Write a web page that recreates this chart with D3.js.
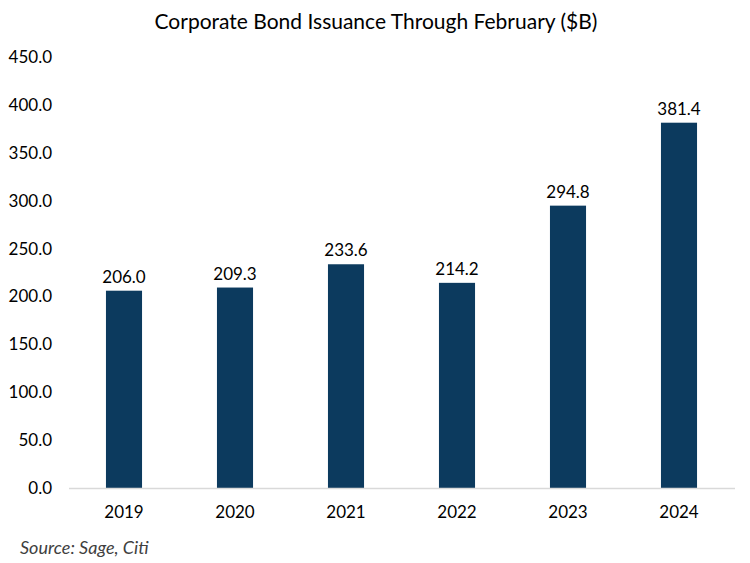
<!DOCTYPE html>
<html><head><meta charset="utf-8">
<script src="https://cdn.jsdelivr.net/npm/d3@7"></script>
<style>body{margin:0;background:#fff;} svg{display:block;}</style>
</head><body>
<svg id="chart" width="750" height="563"></svg>
<script>
const categories = ["2019","2020","2021","2022","2023","2024"];
const values = [206.0, 209.3, 233.6, 214.2, 294.8, 381.4];
const yTicks = [0,50,100,150,200,250,300,350,400,450];
const title = "Corporate Bond Issuance Through February ($B)";
const source = "Source: Sage, Citi";

const font = "Lato, 'Open Sans', sans-serif";
const svg = d3.select("#chart");
const x = d3.scaleBand().domain(categories).range([68.5, 734.5]).paddingInner(0.675).paddingOuter(0.3375);
const y = d3.scaleLinear().domain([0, 450]).range([488, 57]);

svg.append("text").attr("x", 376).attr("y", 29).attr("text-anchor", "middle")
  .attr("font-family", font).attr("font-size", 21).attr("fill", "#000").text(title);

const yAxis = svg.append("g").attr("transform", "translate(52,0)")
  .call(d3.axisLeft(y).tickValues(yTicks).tickFormat(d3.format(".1f")).tickSize(0).tickPadding(0));
yAxis.select(".domain").remove();
yAxis.selectAll("text").attr("font-family", font).attr("font-size", 17).attr("fill", "#000");

svg.append("g").selectAll("rect").data(values).join("rect")
  .attr("x", (d,i) => x(categories[i])).attr("width", x.bandwidth())
  .attr("y", d => y(d)).attr("height", d => y(0) - y(d))
  .attr("fill", "#0c3a5e");

const xAxis = svg.append("g").attr("transform", "translate(0,488)")
  .call(d3.axisBottom(x).tickSize(0).tickPadding(18));
xAxis.select(".domain").attr("stroke", "#d9d9d9").attr("stroke-width", 1.5);
xAxis.selectAll("text").attr("font-family", font).attr("font-size", 17).attr("fill", "#000");

svg.append("g").selectAll("text").data(values).join("text")
  .attr("x", (d,i) => x(categories[i]) + x.bandwidth()/2)
  .attr("y", d => y(d) - 8).attr("text-anchor", "middle")
  .attr("font-family", font).attr("font-size", 17).attr("fill", "#000")
  .text(d => d3.format(".1f")(d));

svg.append("text").attr("x", 20).attr("y", 554)
  .attr("font-family", font).attr("font-size", 18).attr("font-style", "italic").attr("fill", "#404040")
  .text(source);
</script>
</body></html>
